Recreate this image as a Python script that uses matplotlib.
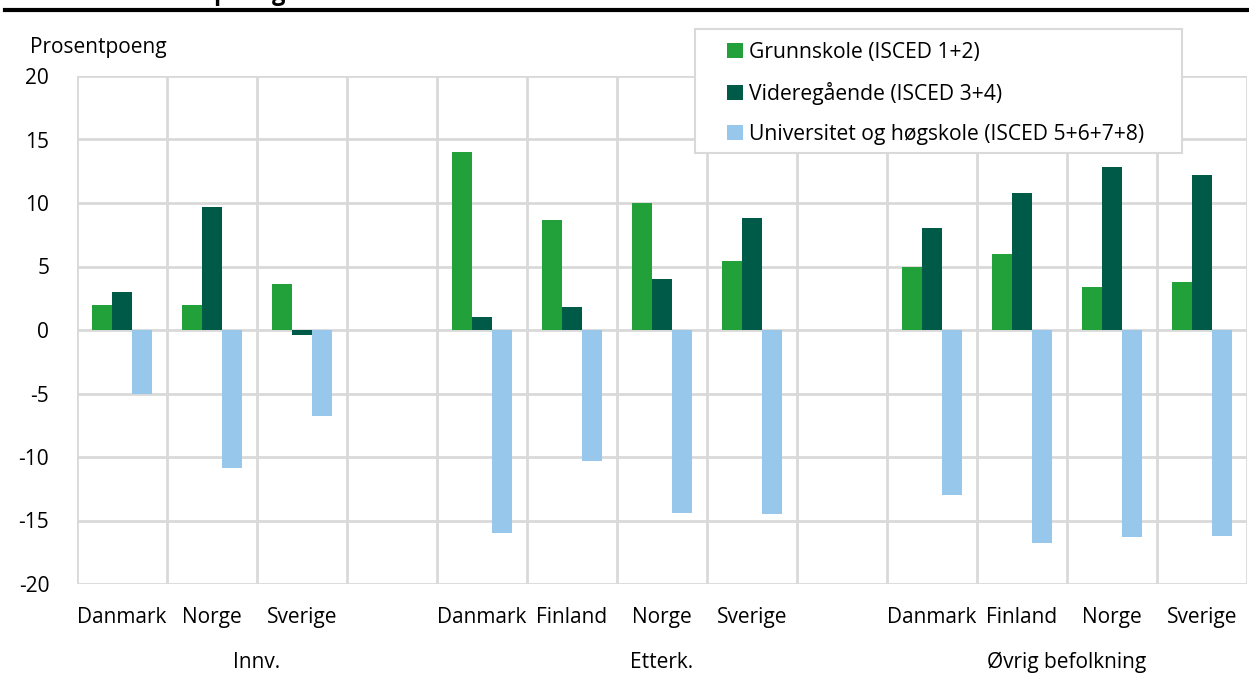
import numpy as np
import matplotlib.pyplot as plt
from matplotlib.patches import Rectangle

# data
countries = ['Danmark', 'Norge', 'Sverige',
             'Danmark', 'Finland', 'Norge', 'Sverige',
             'Danmark', 'Finland', 'Norge', 'Sverige']
slots = [0, 1, 2, 4, 5, 6, 7, 9, 10, 11, 12]
groups = ['Innv.', 'Etterk.', 'Øvrig befolkning']
group_pos = [1.5, 6.0, 10.5]

grunnskole = [2.0, 2.0, 3.6, 14.0, 8.7, 10.0, 5.4, 5.0, 6.0, 3.4, 3.8]
videregaende = [3.0, 9.7, -0.4, 1.0, 1.8, 4.0, 8.8, 8.0, 10.8, 12.8, 12.2]
universitet = [-5.0, -10.9, -6.8, -16.0, -10.3, -14.4, -14.5, -13.0, -16.8, -16.3, -16.2]

labels = ['Grunnskole (ISCED 1+2)', 'Videregående (ISCED 3+4)',
          'Universitet og høgskole (ISCED 5+6+7+8)']
colors = ['#22a039', '#005a48', '#97c7eb']

plt.rcParams['font.family'] = ['Open Sans', 'DejaVu Sans']
plt.rcParams['font.size'] = 15
plt.rcParams['axes.unicode_minus'] = False

W, H = 1249, 676
fig = plt.figure(figsize=(W / 100, H / 100), dpi=100)
ax = fig.add_axes([77 / W, 1 - 584 / H, 1170 / W, 508 / H])

x = np.array(slots, dtype=float)
w = 0.222
for i, vals in enumerate([grunnskole, videregaende, universitet]):
    ax.bar(x + (i - 1) * w, vals, width=w, color=colors[i], label=labels[i], zorder=3)

ax.set_xlim(-0.5, 12.5)
ax.set_ylim(-20, 20)
ax.set_yticks(np.arange(-20, 21, 5))
ax.set_xticks(np.arange(-0.5, 13, 1.0))
ax.set_xticklabels([])
ax.grid(True, color='#d9d9d9', linewidth=2, zorder=0)
ax.tick_params(length=0, labelsize=15, pad=20)
for s in ax.spines.values():
    s.set_visible(False)

for xi, c in zip(slots, countries):
    ax.text(xi, -22.6, c, ha='center', va='center', fontsize=15)
for gp, g in zip(group_pos, groups):
    ax.text(gp, -26.2, g, ha='center', va='center', fontsize=15)

fig.text(30 / W, 1 - 47 / H, 'Prosentpoeng', ha='left', va='center', fontsize=15)

# top rule and cut-off title
fig.add_artist(plt.Line2D([5 / W, 1], [1 - 10 / H, 1 - 10 / H],
                          color='black', linewidth=3, transform=fig.transFigure))
fig.text(213 / W, 1 + 6 / H, 'poeng', ha='left', va='center',
         fontsize=17, fontweight='bold')

# legend box
fig.add_artist(Rectangle((695 / W, 1 - 153 / H), 487 / W, 124 / H,
                         transform=fig.transFigure, facecolor='white',
                         edgecolor='#d9d9d9', linewidth=1.5, zorder=4))
leg = fig.legend(loc='upper left', bbox_to_anchor=(727 / W, 1 - 42 / H),
                 frameon=False, handlelength=0.75, handleheight=0.75,
                 handletextpad=0.3, labelspacing=0.9, borderpad=0,
                 borderaxespad=0, fontsize=15.2)
leg.set_zorder(5)

fig.savefig('out.png', dpi=100)
